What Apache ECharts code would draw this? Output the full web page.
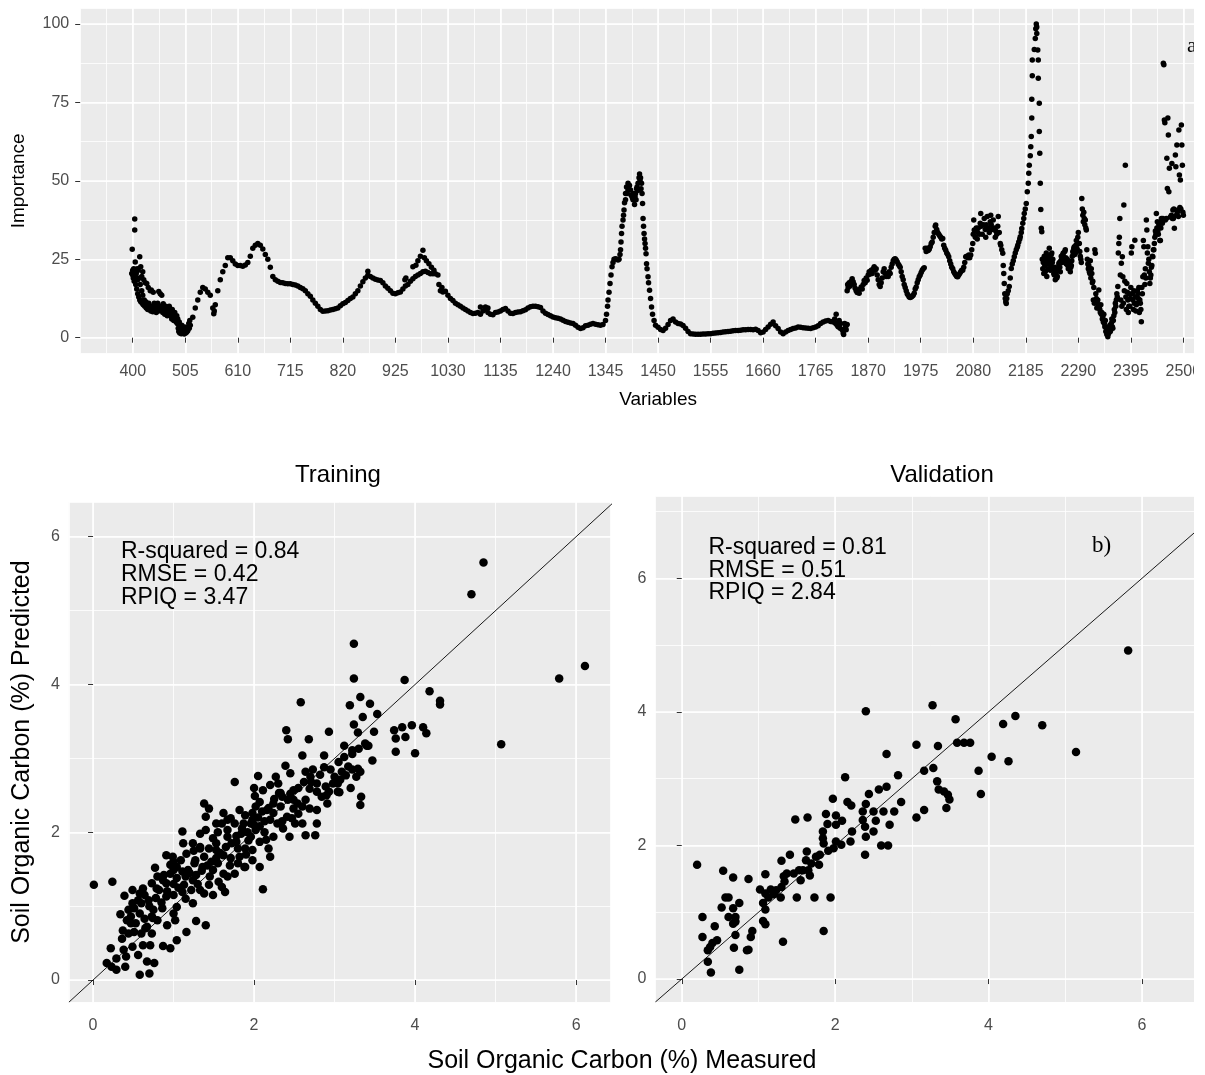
<!DOCTYPE html>
<html><head><meta charset="utf-8">
<script src="https://cdn.jsdelivr.net/npm/echarts@6/dist/echarts.min.js"></script>
<style>html,body{margin:0;padding:0;background:#fff}#chart{width:1205px;height:1075px}</style>
</head><body><div id="chart"></div>
<script>
// ---------------- DATA ----------------
const variableTicks = [400,505,610,715,820,925,1030,1135,1240,1345,1450,1555,1660,1765,1870,1975,2080,2185,2290,2395,2500];
const importanceTicks = [0,25,50,75,100];
const socTicks = [0,2,4,6];

// noisy start of the spectrum: [variable, importance]
const importance400 = [
[398,20.5],[399,28.2],[400,21.5],[400,20],[401,19],[402,22],[403,18],[404,37.8],[404,34.3],[405,24.1],
[405,19.5],[406,17],[407,20.5],[408,15.5],[409,22],[410,18.5],[410,14],[411,21.5],[412,13],[413,19],
[414,25.8],[414,12],[415,17],[416,22.6],[416,11.5],[418,19.5],[418,15],[419,11],[420,21],[420,13.5],
[421,10.5],[422,18.5],[423,12],[424,10],[425,17.5],[426,11.5],[427,9.5],[428,17.3],[429,10.5],[430,9],
[431,16],[432,11],[433,9.5],[434,10],[435,15],[436,8.5],[437,15.2],[438,10],[439,9],[440,8.3],
[441,14.5],[442,9.5],[443,11],[444,8.5],[446,10.2],[447,8],[449,9.5],[450,11],[452,14.7],[452,8.5],
[454,9.5],[455,14],[456,10],[458,13.5],[458,9],[460,8],[461,10.8],[463,9.5],[464,7.5],[466,10],
[467,8.5],[469,7],[470,9.5],[472,8],[473,10],[475,7],[476,8.5],[478,6],[479,9],[481,7.5],
[482,5.5],[484,8],[485,6.5],[487,5],[488,7],[489,4.5],[490,6],[491,3],[492,2],[493,5],
[494,1.5],[495,3.5],[496,2.5],[497,1.3],[498,4],[499,2],[500,3],[501,1.5],[502,2.5],[503,1.2],
[504,3.4],[505,2],[506,1.5],[507,2.8],[508,1.8],[509,3],[510,2.2],[511,3.3],[512,4.5],[513,3],[514,5.5]
];
// smooth part, every 5 units from 515 to 1340
const importance515 = [
4,6.5,9.5,12,14.5,16,15.5,14.5,13.5,9.5,
10.5,15,18.5,21,23,25.5,25.5,24.5,23.5,23,
23,22.8,23.2,24,26,28.5,29.5,30,29.5,28.3,
26.5,25,22.5,19.5,18.5,18,17.6,17.5,17.3,17.2,
17.2,17,16.8,16.5,16,15.6,15,14,13.2,12,
11,10,9,8.4,8.5,8.6,8.8,9,9.2,9.5,
10.2,10.8,11.2,11.9,12.5,13,14,15,16.5,17.8,
19,19.9,19.5,19,18.6,18.4,18.2,17.5,16.5,15.8,
15,14.2,14,14.3,14.6,15.5,16.5,17,18,18.8,
19.5,20,20.5,21,21.2,20.8,20.4,20.4,20.4,20,
15,14.6,14.8,13.5,12.5,11.9,11,10.5,10,9.5,
9,8.5,8,7.7,7.8,8,7.5,8.5,9,8,
7.5,7.3,8,8.2,8.5,9,9.3,8.5,7.8,7.7,
8,8.2,8.3,8.6,8.9,9.5,9.9,10,10,9.9,
9.6,8.5,7.8,7.4,7,6.6,6.4,6.2,6,5.6,
5.2,4.9,4.7,4.5,4,3.3,2.9,3.2,3.8,4,
4.3,4.5,4.3,4.1,4,4.2
];
// extra scattered points along the smooth part
const importanceExtra = [
[562,7.6],[563,8.5],[870,21.2],[944,18.5],[946,19],[960,22.6],[966,23.1],[970,24.5],[975,26],[980,27.9],
[983,25.5],[987,24.5],[992,23.6],[997,22.5],[1002,21.5],[1012,17],[1018,16],[1095,9.8],[1105,9.8],[1110,9.5]
];
// steep peak near 1400
const importance1345 = [
[1345,5.5],[1347,7.5],[1349,10],[1350,12],[1352,14.5],[1354,17.3],[1356,20],[1358,22.6],[1360,24],[1362,25],
[1365,25.2],[1368,25],[1370,24.8],[1372,25],[1374,26.5],[1375,28],[1376,30.5],[1377,33.2],[1378,35.5],[1380,37.5],
[1381,39],[1382,40.7],[1383,43],[1385,46],[1387,48],[1390,49.2],[1392,48.5],[1395,47.1],[1398,45],[1400,44],
[1402,43.9],[1404,45],[1405,46],[1407,47.5],[1410,49.2],[1412,51],[1413,52.2],[1415,51],[1417,49.2],[1418,46],
[1419,42.8],[1420,38],[1421,35.5],[1422,33.2],[1423,31.5],[1424,30],[1425,28.5],[1426,26.8],[1427,23.6],[1428,22],
[1430,19.4],[1431,17.5],[1433,15.1],[1435,12.5],[1437,9.8],[1439,7.5],[1442,5.5],[1445,4],
[1385,44],[1388,46],[1390,47],[1393,48.5],[1396,45.5],[1399,44.5],[1401,46],[1403,42.5],[1406,44],[1408,48],
[1411,47],[1414,50],[1416,47.5]
];
// smooth part, every 5 units from 1450 to 1825
const importance1450 = [
3.3,2.6,2.3,3,4.2,5.5,6,5,4.5,4.4,
3.9,3,2,1.3,1.2,1.1,1.1,1.1,1.2,1.2,
1.3,1.3,1.4,1.5,1.6,1.7,1.8,1.9,2,2.1,
2.2,2.3,2.3,2.4,2.5,2.5,2.6,2.6,2.5,2.7,
2.3,1.6,1.8,2.6,3.4,4.3,5,3.8,2.9,1.8,
1.3,1.8,2.3,2.6,2.9,3.1,3.4,3.3,3.2,3.1,
3,2.9,3.2,3.4,3.8,4.5,5,5.3,5.5,5.2,
5,4.5,3.5,4.5,1.5,3.5
];
const importance1800 = [
[1803,6],[1806,7.5],[1808,4],[1812,5.5],[1814,3],[1818,2.5],[1821,1],[1823,4.5],[1826,2.5],[1828,4.2]
];
// noisy end of the spectrum: [variable, importance]
const importance1828 = [
[1828,15],[1829,17],[1830,16],[1832,17.5],[1834,16.5],[1836,18],[1838,18.8],[1840,17.8],[1842,17],[1844,15.8],
[1846,15],[1848,14.4],[1850,15.2],[1852,14.2],[1854,15.5],[1856,16.2],[1858,15.5],[1860,17],[1862,18.2],[1864,17.5],
[1866,19],[1868,18.3],[1870,20],[1872,21],[1874,20.3],[1876,21.5],[1878,20.5],[1880,22],[1882,22.6],[1884,21.5],
[1886,22],[1888,20],[1890,18.5],[1892,17],[1894,16.3],[1896,17.5],[1898,19],[1900,21],[1902,22],[1904,20.5],
[1906,19.5],[1908,20.3],[1910,19.5],[1912,21],[1914,20.5],[1916,22.5],[1918,23.5],[1920,24.5],[1922,25],[1924,25.2],
[1926,24.8],[1928,24.2],[1930,23.5],[1932,23],[1934,22.5],[1936,21],[1938,19.5],[1940,18.5],[1942,17],[1944,16],
[1946,15],[1948,14],[1950,13.5],[1952,13],[1954,12.8],[1956,13],[1958,13.2],[1960,13.5],[1962,14.2],[1964,15.5],
[1966,16.2],[1968,17.5],[1970,18.5],[1972,19.4],[1974,20],[1976,20.8],[1978,21.5],[1980,22],[1982,22.3],[1984,28.5],
[1986,27.5],[1988,28.5],[1990,27.8],[1992,28.2],[1994,29],[1996,30],[1998,30.5],[2000,32],[2002,33.5],[2004,35.5],
[2005,35.9],[2007,34.5],[2009,33.5],[2011,33],[2013,32.5],[2015,32],[2017,31.5],[2019,31.6],[2021,29.5],[2023,28.5],
[2025,27.9],[2027,27],[2029,26.5],[2031,25.8],[2033,24.5],[2035,23.5],[2037,22.5],[2039,22],[2041,21],[2043,20.5],
[2045,20],[2047,19.5],[2049,19.4],[2051,20],[2053,20.5],[2055,21],[2057,21.5],[2059,21.5],[2061,22.5],[2063,24],
[2065,25.8],[2067,26],[2069,25.5],[2071,26.4],[2073,25.5],[2075,26.4],[2077,28],[2079,30],[2080,33],[2081,37.5],
[2082,34.3],[2084,32],[2086,35],[2088,31.5],[2089,33.5],[2090,35],[2092,33],[2094,36.5],[2095,39.6],[2096,35.5],
[2098,33],[2100,36],[2102,38],[2104,34.5],[2105,32],[2106,36],[2108,38.6],[2110,35],[2112,33.5],[2114,37],
[2115,39],[2116,36],[2118,34.5],[2120,37.5],[2122,35],[2124,32],[2125,34],[2127,33],[2129,35.5],[2130,38.6],
[2132,33.5],[2134,30],[2135,29.5],[2137,28],[2139,26.9],[2140,23],[2141,20.5],[2142,17.3],[2143,14],[2144,12.5],
[2145,11.5],[2146,10.9],[2147,12.5],[2148,14],[2150,15],[2152,16.3],[2154,19],[2156,22.1],[2158,23.5],[2160,24.5],
[2162,25.8],[2164,27],[2166,28],[2168,28.8],[2169,29.5],[2171,30.5],[2173,31.5],[2174,32.2],[2176,33.5],[2177,34.8],
[2179,36.5],[2181,38],[2182,39.6],[2184,41],[2186,42.8],[2188,46.5],[2190,49.2],[2191,52.4],[2192,55],[2194,58],
[2195,60.9],[2196,64.1],[2197,70],[2197,76],[2198,83.5],[2198,88.5],[2202,91.9],[2204,95.4],[2205,98.5],[2206,100],
[2207,99],[2207,97],[2209,91.7],[2210,88.5],[2210,82.7],[2212,74.7],[2212,65.7],[2213,58.8],[2214,49.2],[2215,40.9],
[2216,34.9],[2217,33.8],[2218,25],[2219,22],[2220,24],[2221,20.5],[2222,26],[2223,23],[2224,21],[2225,25],
[2226,27],[2227,19.5],[2228,24],[2229,22],[2230,26],[2231,23.5],[2232,28.5],[2233,25],[2234,21.5],[2235,23],
[2236,26.5],[2237,27],[2238,24],[2239,25],[2240,22],[2241,20.5],[2242,20],[2243,22.5],[2244,18.5],[2245,20],
[2246,21],[2247,19],[2248,19.5],[2249,21.5],[2250,22],[2251,23.5],[2252,24],[2253,22.5],[2254,21],[2255,24.5],
[2256,26],[2257,25],[2258,24],[2259,26.5],[2260,27],[2261,25.5],[2262,25],[2263,27.5],[2264,28],[2265,25.5],
[2266,23.5],[2267,24.5],[2268,25],[2269,23],[2270,22],[2271,23.5],[2272,24],[2273,22],[2274,21],[2275,22.5],
[2276,23],[2277,24.5],[2278,26],[2279,27.5],[2280,27],[2281,28.5],[2282,29],[2283,26.5],[2284,27],[2285,29.5],
[2286,31],[2287,28.5],[2288,28],[2289,32],[2290,33.5],[2291,30],[2292,30],[2293,27.5],[2294,26],[2295,25],
[2296,24],[2297,44.4],[2298,41],[2299,39],[2300,37],[2301,40],[2302,38],[2303,36],[2304,37.5],[2305,35],
[2306,34.3],[2307,28],[2308,25],[2309,23.5],[2310,22],[2311,23],[2312,21],[2313,20.5],[2314,24.5],[2315,19],
[2316,22],[2317,20.5],[2318,17.5],[2319,18],[2320,12],[2321,16],[2322,11],[2323,28],[2324,26.9],[2325,14],
[2326,12.5],[2327,9.5],[2328,11],[2329,12],[2330,10],[2331,15.2],[2332,9.5],[2333,9],[2334,8],[2335,10.5],
[2336,7.5],[2337,8],[2338,6],[2339,6.7],[2340,5],[2341,7.5],[2342,4.5],[2343,3.5],[2344,5.5],[2345,2],
[2346,3],[2347,1],[2348,2.5],[2349,0.3],[2350,1.2],[2351,1.5],[2352,3.5],[2353,4],[2354,2],[2355,2.5],
[2356,4.6],[2357,6],[2358,3.5],[2359,3],[2360,5.5],[2361,7],[2362,9],[2363,8],[2364,11],[2365,10],
[2366,12],[2367,14],[2368,13],[2369,16.3],[2370,27],[2371,30],[2372,32],[2373,38],[2374,20],[2375,12],
[2376,23.7],[2377,10],[2378,25.8],[2379,19.4],[2380,11],[2381,42.3],[2382,15],[2383,18],[2384,55],[2385,13],
[2386,9],[2387,17.3],[2388,14.5],[2389,12],[2390,8],[2391,10],[2392,14],[2393,10],[2394,12.5],[2395,16],
[2396,27],[2397,29],[2398,14],[2399,12],[2400,9],[2401,15],[2402,11],[2403,31.1],[2404,13],[2405,8.5],
[2406,10.5],[2407,11],[2408,15],[2409,14],[2410,12.5],[2411,16],[2412,8],[2413,12],[2414,11],[2415,9],
[2416,5.1],[2417,16],[2418,14],[2419,19.4],[2420,31],[2421,29],[2422,20],[2423,17],[2424,22],[2425,19],
[2426,37.5],[2427,34.3],[2428,27],[2429,29],[2430,23.7],[2431,25],[2432,21],[2433,17.3],[2434,19],[2435,20],
[2436,22.5],[2437,23],[2438,26],[2439,25.8],[2440,28],[2441,28],[2442,30],[2443,32],[2444,34],[2445,33],
[2446,39.6],[2447,35],[2448,37],[2449,34],[2450,33],[2451,36],[2452,36.5],[2453,31],[2454,31],[2455,35],
[2456,38],[2457,37],[2458,36.5],[2459,38],[2460,87.5],[2461,87],[2462,69.4],[2463,68.5],[2464,37.5],[2466,38],
[2467,57.2],[2468,47.6],[2469,70],[2470,64.6],[2471,46.5],[2472,54],[2474,38.5],[2476,39],[2477,55.5],[2478,38],
[2479,40.7],[2480,38],[2481,41],[2482,34.9],[2484,58.2],[2485,54.5],[2486,39],[2487,61.4],[2488,40],[2489,40.7],
[2490,38.6],[2491,66.2],[2492,51.9],[2493,41.5],[2494,50.3],[2495,41],[2496,67.8],[2497,61.4],[2498,55],[2499,40],
[2500,39]
];

// Training: [measured, predicted]
const trainingPoints = [
[4.85,5.65],[4.70,5.22],[3.24,4.55],[3.24,4.08],[3.87,4.06],[5.79,4.08],[6.11,4.25],[5.07,3.19],[4.18,3.91],[4.31,3.78],
[4.31,3.73],[2.58,3.76],[3.19,3.72],[3.32,3.83],[3.44,3.74],[3.35,3.56],[3.53,3.60],[3.24,3.46],[3.29,3.35],[3.49,3.36],
[2.40,3.38],[2.42,3.26],[2.68,3.26],[2.93,3.36],[3.74,3.38],[3.84,3.42],[3.96,3.45],[4.10,3.42],[4.14,3.34],[3.76,3.27],
[3.88,3.29],[3.76,3.09],[4.00,3.07],[3.40,3.17],[3.42,3.17],[3.12,3.17],[2.60,3.04],[2.87,3.04],[3.22,3.11],[3.47,2.97],
[3.22,2.85],[3.32,2.82],[1.76,2.68],[2.05,2.76],[2.39,2.90],[2.64,2.82],[2.73,2.85],[2.87,2.88],[3.14,2.77],[3.07,2.71],
[2.98,2.66],[3.20,2.60],[3.06,2.54],[3.33,2.48],[3.32,2.37],[2.91,2.39],[2.78,2.55],[2.69,2.59],[2.49,2.32],[2.42,2.44],
[2.30,2.66],[2.33,2.53],[2.24,2.39],[2.11,2.57],[2.01,2.49],[2.16,2.30],[2.02,2.35],[1.89,2.23],[1.98,2.17],[2.20,2.17],
[2.29,2.12],[2.47,2.19],[2.36,2.05],[2.44,1.94],[2.64,1.96],[2.76,1.96],[2.78,2.12],[2.60,2.12],[2.24,1.94],[2.07,1.87],
[1.93,1.89],[1.84,1.98],[1.76,2.12],[1.62,2.26],[1.38,2.39],[1.44,2.32],[1.40,2.21],[1.71,2.19],[1.78,1.87],[1.89,1.78],
[1.98,1.76],[2.18,1.78],[2.20,1.67],[2.07,1.53],[1.89,1.53],[1.71,1.65],[1.62,1.69],[1.53,1.65],[1.49,1.92],[1.40,2.03],
[1.11,2.01],[1.12,1.85],[1.33,1.80],[1.44,1.78],[1.53,1.76],[1.38,1.67],[1.27,1.62],[1.18,1.49],[1.36,1.53],[1.49,1.49],
[1.62,1.44],[1.00,1.49],[0.91,1.69],[0.96,1.56],[0.77,1.52],[0.82,1.22],[0.91,1.31],[1.04,1.38],[1.13,1.29],[1.24,1.35],
[1.11,1.19],[1.24,1.04],[1.00,1.15],[0.91,1.13],[0.78,1.11],[0.64,1.15],[0.60,1.04],[0.51,0.97],[0.47,0.86],[0.53,0.77],
[0.64,0.83],[0.73,0.86],[0.86,0.97],[1.04,0.99],[1.22,1.22],[1.33,1.22],[1.49,1.15],[1.60,1.26],[1.64,1.19],[2.11,1.23],
[1.88,1.53],[1.40,0.74],[1.28,0.80],[1.16,0.65],[1.04,0.54],[0.96,0.43],[0.87,0.46],[0.92,0.74],[0.74,0.84],[0.73,0.63],
[0.71,0.47],[0.62,0.47],[0.56,0.34],[0.67,0.25],[0.76,0.23],[0.70,0.09],[0.58,0.07],[0.40,0.18],[0.41,0.32],[0.29,0.14],
[0.23,0.18],[0.17,0.23],[0.29,0.29],[0.22,0.43],[0.36,0.56],[0.37,0.67],[0.34,0.89],[0.39,1.14],[0.24,1.33],[0.01,1.29],
[0.47,0.77],[0.44,0.63],[0.51,0.65],[0.49,1.22],[0.58,1.17],[0.69,1.08],[0.79,1.24],[0.88,1.42],[0.99,1.67],[1.11,1.47],
[1.26,1.58],[1.33,1.78],[1.53,1.85],[1.67,1.94],[1.60,2.12],[1.67,2.03],[1.80,1.78],[1.96,2.12],[2.02,2.03],[2.13,2.15],
[2.13,2.00],[2.33,2.35],[2.24,2.26],[2.41,2.21],[2.51,2.12],[2.69,2.32],[2.84,2.48],[2.64,2.44],[2.71,2.68],[2.78,2.66],
[2.89,2.62],[3.00,2.75],[3.09,2.82],[3.17,2.89],[3.04,2.55],[2.93,2.55],[2.49,2.44],[2.54,2.39],[2.20,2.64],[1.98,2.26],
[1.67,2.17],[1.53,2.12],[1.33,1.98],[1.24,1.85],[1.16,1.71],[1.09,1.62],[1.04,1.53],[0.96,1.44],[0.87,1.35],[0.73,1.31],
[0.62,1.24],[0.56,1.08],[0.49,1.04],[0.44,0.95],[0.42,0.81],[0.38,0.41],[0.49,0.45],[0.60,0.63],[0.67,0.72],[0.80,0.81],
[1.00,0.90],[1.02,0.81],[1.38,1.17],[1.44,1.29],[1.56,1.33],[1.67,1.40],[1.76,1.44],[1.80,1.58],[1.98,1.62],[1.82,1.67],
[1.96,1.94],[2.07,2.08],[1.87,2.12],[1.82,2.30],[2.07,2.41],[2.27,2.75],[2.31,2.53],[2.49,2.57],[2.60,2.35],[2.78,2.30],
[3.04,2.66],[3.27,2.75],[3.29,2.86],[3.22,3.06],[3.30,3.13],[3.38,3.20],
[1.15,1.40],[1.20,1.45],[1.28,1.42],[1.35,1.48],[1.42,1.55],[1.47,1.60],[1.55,1.58],[1.58,1.72],[1.65,1.80],[1.72,1.85],
[1.78,1.95],[1.85,2.05],[1.92,2.00],[2.00,2.10],[2.05,2.20],[2.10,2.28],[2.18,2.33],[2.25,2.45],[2.35,2.48],[2.45,2.52],
[2.55,2.60],[2.62,2.68],[2.70,2.75],[2.82,2.78],[2.95,2.85],[3.05,2.95],[3.12,3.02],[0.85,1.05],[0.92,1.20],[1.00,1.30],
[1.06,1.25],[0.70,1.00],[0.75,0.95],[0.58,0.90],[0.65,0.70],[1.15,1.10],[1.30,1.30],[1.45,1.40],[1.70,1.55],[1.90,1.70],
[2.15,1.90],[2.35,2.15],[2.55,2.25],[2.90,2.50],[2.00,2.60],[1.55,2.00],[1.25,1.75],[1.00,1.60],[0.80,1.40],[2.45,2.80]
];
// Validation: [measured, predicted]
const validationPoints = [
[5.82,4.92],[3.27,4.10],[2.40,4.01],[3.57,3.89],[4.19,3.82],[4.35,3.94],[4.70,3.80],[3.06,3.51],[3.34,3.49],[3.59,3.54],
[3.68,3.54],[3.76,3.54],[2.67,3.37],[4.04,3.33],[5.14,3.40],[4.26,3.26],[3.16,3.12],[3.28,3.16],[3.87,3.12],[2.13,3.02],
[2.82,3.05],[3.33,2.96],[3.35,2.84],[3.42,2.81],[3.47,2.76],[3.49,2.69],[3.90,2.77],[3.45,2.56],[3.16,2.53],[2.57,2.84],
[2.67,2.88],[2.44,2.77],[1.97,2.70],[2.16,2.65],[2.21,2.60],[2.86,2.65],[2.40,2.62],[2.36,2.51],[2.50,2.51],[2.63,2.51],
[2.77,2.51],[3.06,2.42],[1.48,2.39],[1.64,2.42],[1.88,2.47],[2.01,2.45],[2.09,2.37],[2.36,2.38],[2.53,2.37],[2.71,2.31],
[1.90,2.32],[2.01,2.31],[1.84,2.21],[2.22,2.21],[2.39,2.28],[2.50,2.21],[1.84,2.11],[2.40,2.13],[2.01,2.06],[2.08,2.01],
[2.20,2.06],[1.98,1.96],[2.60,2.00],[2.69,2.00],[1.91,1.92],[2.39,1.86],[1.63,1.91],[1.80,1.86],[1.30,1.77],[1.41,1.86],
[1.62,1.78],[1.69,1.73],[1.79,1.71],[1.53,1.63],[1.65,1.63],[1.46,1.58],[1.55,1.48],[1.67,1.55],[0.20,1.71],[0.54,1.62],
[0.67,1.52],[0.87,1.50],[1.09,1.57],[1.33,1.54],[1.34,1.46],[1.30,1.38],[1.02,1.34],[1.16,1.34],[1.20,1.27],[1.29,1.22],
[1.50,1.22],[1.73,1.22],[1.94,1.22],[1.13,1.22],[1.06,1.14],[0.57,1.22],[0.61,1.22],[0.52,1.07],[0.67,1.06],[0.75,1.14],
[1.09,1.04],[0.27,0.93],[0.61,0.93],[0.70,0.93],[0.70,0.86],[0.67,0.83],[1.06,0.87],[1.09,0.82],[0.43,0.79],[0.92,0.72],
[0.90,0.63],[0.70,0.66],[0.27,0.63],[0.46,0.58],[0.40,0.54],[0.37,0.48],[0.34,0.43],[0.68,0.47],[0.87,0.44],[1.32,0.56],
[1.85,0.72],[0.34,0.26],[0.38,0.10],[0.75,0.14],[0.85,0.43],[1.09,1.28],[1.23,1.33],[1.37,1.58],[1.58,1.63],[1.75,1.83],
[1.85,2.03]
];
const trainingStats = ['R-squared = 0.84','RMSE = 0.42','RPIQ = 3.47'];
const validationStats = ['R-squared = 0.81','RMSE = 0.51','RPIQ = 2.84'];

// ---------------- BUILD ----------------
const importanceData = [];
importance400.forEach(p => importanceData.push(p));
importance515.forEach((v, i) => importanceData.push([515 + 5 * i, v]));
importanceExtra.forEach(p => importanceData.push(p));
importance1345.forEach(p => importanceData.push(p));
importance1450.forEach((v, i) => importanceData.push([1450 + 5 * i, v]));
importance1800.forEach(p => importanceData.push(p));
importance1828.forEach(p => importanceData.push(p));

const FONT = '"Liberation Sans", Arial, sans-serif';
const SERIF = '"Liberation Serif", "Times New Roman", serif';
const TXT = '#4D4D4D';

function onlyTicks(list) {
  return v => (list.some(t => Math.abs(t - v) < 1e-6) ? String(v) : '');
}
function majorAxis(gridIndex, min, max, ticks, step, extra) {
  return Object.assign({
    type: 'value', gridIndex, min, max, minInterval: step, maxInterval: step,
    axisLine: { show: false },
    axisTick: { show: true, length: 5, customValues: ticks, lineStyle: { color: '#333333', width: 1 } },
    axisLabel: { customValues: ticks, formatter: onlyTicks(ticks), color: TXT, fontSize: 16, fontFamily: FONT },
    splitLine: { show: true, lineStyle: { color: '#FFFFFF', width: 1.6 } }
  }, extra || {});
}
function minorAxis(gridIndex, min, max, step, extra) {
  return Object.assign({
    type: 'value', gridIndex, min, max, minInterval: step, maxInterval: step,
    axisLine: { show: false }, axisTick: { show: false }, axisLabel: { show: false },
    splitLine: { show: true, lineStyle: { color: '#FFFFFF', width: 0.8 } }
  }, extra || {});
}

const TR = [-0.3, 6.43], TRY = [-0.3, 6.47];
const VA = [-0.345, 7.23];
const DOT = { color: '#000000', opacity: 1 };

const option = {
  animation: false,
  backgroundColor: '#FFFFFF',
  grid: [
    { left: 80.2, top: 8.3, width: 1155.7, height: 345.1, show: true, backgroundColor: '#EBEBEB', borderWidth: 0, containLabel: false, outerBoundsMode: 'none' },
    { left: 68.9, top: 502, width: 541.8, height: 500.2, show: true, backgroundColor: '#EBEBEB', borderWidth: 0, containLabel: false, outerBoundsMode: 'none' },
    { left: 655.3, top: 496.2, width: 581, height: 505.9, show: true, backgroundColor: '#EBEBEB', borderWidth: 0, containLabel: false, outerBoundsMode: 'none' }
  ],
  xAxis: [
    {
      type: 'value', gridIndex: 0, min: 295, max: 2605, interval: 105,
      axisLine: { show: false },
      axisTick: { show: true, length: 5, customValues: variableTicks, lineStyle: { color: '#333333' } },
      axisLabel: { customValues: variableTicks, formatter: onlyTicks(variableTicks), color: TXT, fontSize: 16, margin: 10, fontFamily: FONT },
      splitLine: { show: true, lineStyle: { color: '#FFFFFF', width: 1.6 } },
      name: 'Variables', nameLocation: 'middle', nameGap: 37,
      nameTextStyle: { color: '#000', fontSize: 19, fontFamily: FONT }
    },
    {
      type: 'value', gridIndex: 0, min: 295, max: 2605, interval: 52.5,
      axisLine: { show: false }, axisTick: { show: false }, axisLabel: { show: false },
      splitLine: { show: true, lineStyle: { color: '#FFFFFF', width: 0.8 } }
    },
    majorAxis(1, TR[0], TR[1], socTicks, 2, { axisLabel: { customValues: socTicks, formatter: onlyTicks(socTicks), color: TXT, fontSize: 16, margin: 15, fontFamily: FONT } }),
    minorAxis(1, TR[0], TR[1], 1),
    majorAxis(2, VA[0], VA[1], socTicks, 2, { axisLabel: { customValues: socTicks, formatter: onlyTicks(socTicks), color: TXT, fontSize: 16, margin: 15, fontFamily: FONT } }),
    minorAxis(2, VA[0], VA[1], 1)
  ],
  yAxis: [
    majorAxis(0, -5, 105, importanceTicks, 25, {
      axisLabel: { customValues: importanceTicks, formatter: onlyTicks(importanceTicks), color: TXT, fontSize: 16, margin: 11, fontFamily: FONT },
      name: 'Importance', nameLocation: 'middle', nameGap: 52,
      nameTextStyle: { color: '#000', fontSize: 19, fontFamily: FONT }
    }),
    minorAxis(0, -5, 105, 12.5),
    majorAxis(1, TRY[0], TRY[1], socTicks, 2, {
      axisLabel: { customValues: socTicks, formatter: onlyTicks(socTicks), color: TXT, fontSize: 16, margin: 9, fontFamily: FONT },
      name: 'Soil Organic Carbon (%) Predicted', nameLocation: 'middle', nameGap: 34,
      nameTextStyle: { color: '#000', fontSize: 25, fontFamily: FONT }
    }),
    minorAxis(1, TRY[0], TRY[1], 1),
    majorAxis(2, VA[0], VA[1], socTicks, 2, {
      axisLabel: { customValues: socTicks, formatter: onlyTicks(socTicks), color: TXT, fontSize: 16, margin: 9, fontFamily: FONT }
    }),
    minorAxis(2, VA[0], VA[1], 1)
  ],
  series: [
    { type: 'scatter', xAxisIndex: 0, yAxisIndex: 0, data: importanceData, symbol: 'circle', symbolSize: 5.5,
      itemStyle: DOT, silent: true, z: 3 },
    { type: 'scatter', xAxisIndex: 2, yAxisIndex: 2, data: trainingPoints, symbol: 'circle', symbolSize: 8.5,
      itemStyle: DOT, silent: true, z: 3 },
    { type: 'line', xAxisIndex: 2, yAxisIndex: 2, data: [[TR[0], TR[0]], [TRY[1], TRY[1]]], showSymbol: false, symbol: 'none',
      lineStyle: { color: '#000', width: 0.9 }, clip: true, silent: true, z: 4 },
    { type: 'scatter', xAxisIndex: 4, yAxisIndex: 4, data: validationPoints, symbol: 'circle', symbolSize: 8.5,
      itemStyle: DOT, silent: true, z: 3 },
    { type: 'line', xAxisIndex: 4, yAxisIndex: 4, data: [[VA[0], VA[0]], [VA[1], VA[1]]], showSymbol: false, symbol: 'none',
      lineStyle: { color: '#000', width: 0.9 }, clip: true, silent: true, z: 4 }
  ],
  graphic: [
    { type: 'text', x: 338, y: 475, z: 50, style: { text: 'Training', fill: '#000', fontSize: 24, fontFamily: FONT, align: 'center', verticalAlign: 'middle' } },
    { type: 'text', x: 942, y: 475, z: 50, style: { text: 'Validation', fill: '#000', fontSize: 24, fontFamily: FONT, align: 'center', verticalAlign: 'middle' } },
    { type: 'text', x: 121, y: 540.5, z: 50, style: { text: trainingStats.join('\n'), fill: '#000', fontSize: 23, lineHeight: 23, fontFamily: FONT, align: 'left', verticalAlign: 'top' } },
    { type: 'text', x: 708.5, y: 536.5, z: 50, style: { text: validationStats.join('\n'), fill: '#000', fontSize: 23, lineHeight: 22.5, fontFamily: FONT, align: 'left', verticalAlign: 'top' } },
    { type: 'text', x: 1092, y: 546, z: 50, style: { text: 'b)', fill: '#000', fontSize: 23, fontFamily: SERIF, align: 'left', verticalAlign: 'middle' } },
    { type: 'text', x: 1187, y: 46, z: 50, style: { text: 'a)', fill: '#000', fontSize: 22, fontFamily: SERIF, align: 'left', verticalAlign: 'middle' } },
    { type: 'text', x: 622, y: 1061, z: 50, style: { text: 'Soil Organic Carbon (%) Measured', fill: '#000', fontSize: 25, fontFamily: FONT, align: 'center', verticalAlign: 'middle' } },
    { type: 'rect', z: 100, shape: { x: 1194, y: 0, width: 20, height: 1075 }, style: { fill: '#FFFFFF' } }
  ]
};

const chart = echarts.init(document.getElementById('chart'), null, { renderer: 'canvas', width: 1205, height: 1075 });
chart.setOption(option);
</script></body></html>
